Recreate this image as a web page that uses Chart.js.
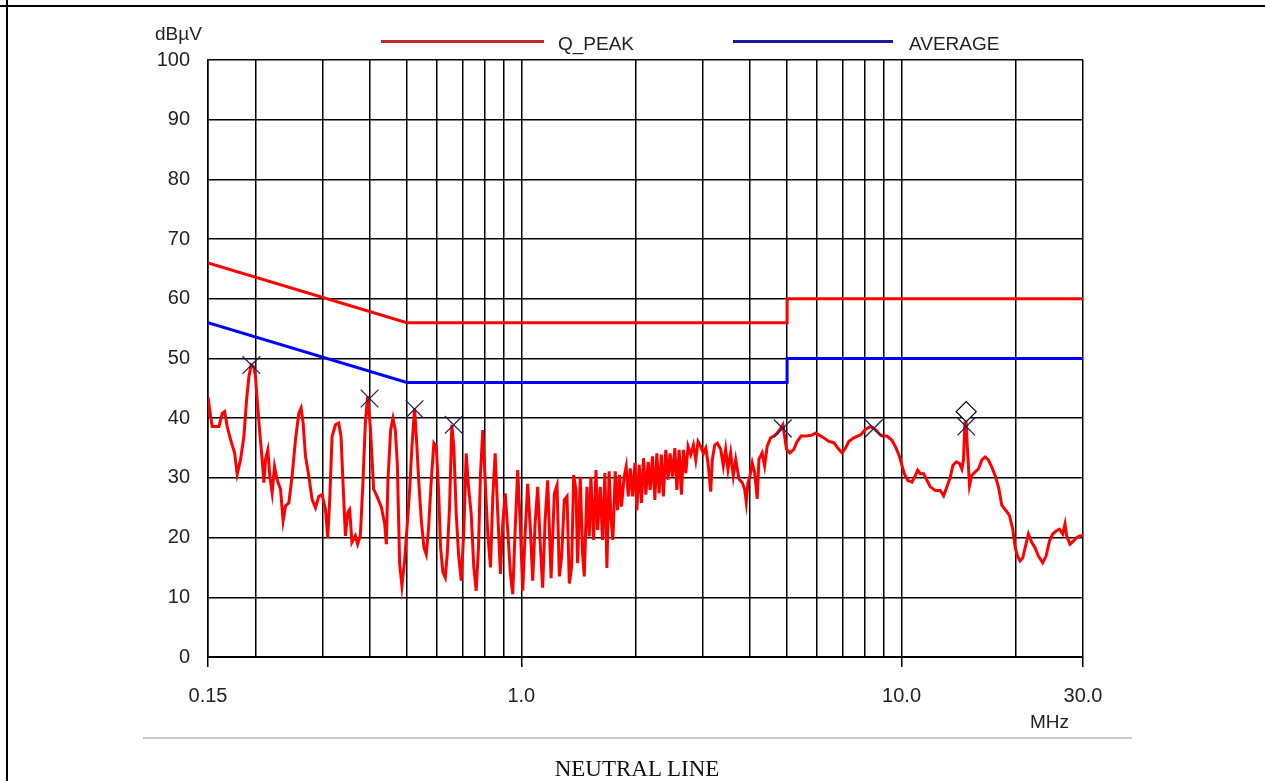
<!DOCTYPE html>
<html>
<head>
<meta charset="utf-8">
<title>NEUTRAL LINE</title>
<script src="https://cdn.jsdelivr.net/npm/chart.js@4.4.0/dist/chart.umd.min.js"></script>
<style>
  html, body { margin: 0; padding: 0; background: #fff; }
  #wrap { position: relative; width: 1265px; height: 781px; overflow: hidden;
          font-family: "Liberation Sans", Arial, sans-serif; color: #222; }
  #wrap canvas { position: absolute; left: 0; top: 0; }
  .txt { position: absolute; line-height: 1; white-space: nowrap; transform: translateY(-50%); font-size: 19px; }
  .bar { position: absolute; }
</style>
</head>
<body>
<div id="wrap">
  <canvas id="emiChart" width="1265" height="781"></canvas>
  <div class="bar" style="left:0;top:5px;width:1265px;height:2px;background:#000"></div>
  <div class="bar" style="left:6px;top:0;width:2px;height:781px;background:#000"></div>
  <div class="txt" style="left:155px;top:33px">dBµV</div>
  <div class="bar" style="left:381px;top:40px;width:163px;height:3px;background:#c0282a"></div>
  <div class="txt" style="left:558px;top:43px">Q_PEAK</div>
  <div class="bar" style="left:733px;top:40px;width:160px;height:3px;background:#1a1aa0"></div>
  <div class="txt" style="left:909px;top:43px">AVERAGE</div>
  <div class="txt" style="left:1030px;top:721px">MHz</div>
  <div class="bar" style="left:143px;top:737px;width:989px;height:2px;background:#c8c8c8"></div>
  <div class="txt" style="left:637px;top:768px;transform:translate(-50%,-50%);font-family:'Liberation Serif','Times New Roman',serif;font-size:23px;color:#111">NEUTRAL LINE</div>
</div>
<script>
// limit lines (CISPR class B, conducted)
var qpFreq = [0.15, 0.5, 5, 5, 30];
var qpLimit = [66, 56, 56, 60, 60];
var avFreq = [0.15, 0.5, 5, 5, 30];
var avLimit = [56, 46, 46, 50, 50];

var traceFreq = [
  0.150, 0.1524, 0.1539, 0.1603, 0.1635, 0.1659, 0.1685, 0.1720, 0.1762, 0.1790,
  0.1827, 0.1864, 0.1895, 0.1921, 0.1948, 0.1980, 0.2000, 0.2020, 0.2053, 0.2082,
  0.2104, 0.2125, 0.2155, 0.2181, 0.2212, 0.2244, 0.2280, 0.2327, 0.2364, 0.2398,
  0.2447, 0.2496, 0.2548, 0.2599, 0.2636, 0.2668, 0.2707, 0.2762, 0.2817, 0.2876,
  0.2934, 0.2993, 0.3055, 0.3098, 0.3135, 0.3179, 0.3245, 0.3310, 0.3357, 0.3397,
  0.3447, 0.3495, 0.3537, 0.3586, 0.3661, 0.3712, 0.3773, 0.3833, 0.3889, 0.3943,
  0.4008, 0.4090, 0.4173,
  0.4286, 0.4373, 0.4416, 0.4460, 0.4533, 0.4597, 0.4664, 0.4720, 0.4787, 0.4854,
  0.4933, 0.5014, 0.5085, 0.5156, 0.5241, 0.5315, 0.5379, 0.5458, 0.5544, 0.5625,
  0.5705, 0.5798, 0.5889, 0.5976, 0.6060, 0.6133, 0.6219, 0.6310, 0.6386, 0.6476,
  0.6566, 0.6646, 0.6744, 0.6838, 0.6951, 0.7061, 0.7163, 0.7263, 0.7383, 0.7500,
  0.7610, 0.7717, 0.7810, 0.7920, 0.8036, 0.8163, 0.8298, 0.8414, 0.8537, 0.8672,
  0.8813, 0.8937, 0.9069, 0.9212, 0.9363, 0.9494, 0.9633, 0.9785, 0.9929, 1.0086,
  1.0234, 1.0396, 1.0568, 1.0715, 1.0871, 1.1043, 1.1204, 1.1382, 1.1550, 1.1732,
  1.1975, 1.2216, 1.2416, 1.2591, 1.2767, 1.2975, 1.3190, 1.3374, 1.3563, 1.3727,
  1.3926, 1.4062, 1.4292, 1.4491, 1.4642, 1.4883, 1.509, 1.524, 1.549, 1.572,
  1.587, 1.613, 1.635, 1.659, 1.679, 1.702, 1.720, 1.741, 1.766, 1.791,
  1.812, 1.834, 1.864, 1.887, 1.911, 1.934, 1.961, 1.990, 2.013, 2.042,
  2.070, 2.096, 2.126, 2.156, 2.182, 2.213, 2.245, 2.272, 2.304, 2.336,
  2.364, 2.399, 2.433, 2.462, 2.497, 2.534, 2.565, 2.601, 2.637, 2.669,
  2.708, 2.745, 2.790, 2.835, 2.876, 2.916, 2.964, 3.012, 3.056, 3.098,
  3.148, 3.179, 3.225, 3.277,
  3.345, 3.398, 3.447, 3.496, 3.553, 3.609, 3.663, 3.736, 3.812, 3.867,
  3.905, 3.945, 3.993, 4.049, 4.108, 4.173, 4.215, 4.300, 4.363, 4.432,
  4.525, 4.616, 4.709, 4.807, 4.874, 4.924, 4.983, 5.083, 5.208, 5.313,
  5.443, 5.591, 5.763, 5.940, 6.060, 6.246, 6.438, 6.635, 6.839, 6.977,
  7.121, 7.263, 7.487, 7.796, 8.035, 8.282, 8.449, 8.618, 8.796, 8.974,
  9.156, 9.436, 9.690, 9.885, 10.02, 10.17, 10.38, 10.65, 10.87, 11.02,
  11.20, 11.43, 11.66, 11.90, 12.27, 12.64, 12.90, 13.16, 13.43, 13.64,
  13.93, 14.21, 14.41, 14.55, 14.67, 14.79, 14.91, 15.09, 15.30, 15.62,
  15.93, 16.26, 16.59, 16.92, 17.27, 17.62, 17.98, 18.35, 18.84, 19.22,
  19.61, 19.90, 20.17, 20.50, 20.83, 21.13, 21.56, 21.99, 22.44, 22.90,
  23.50, 23.99, 24.48, 24.97, 25.49, 26.01, 26.53, 26.91, 27.17, 27.73,
  28.30, 28.86, 29.46, 30.0
];
var traceLevel = [
  43.5, 40.3, 38.6, 38.6, 40.8, 41.1, 38.6, 36.4, 34.2, 30.6,
  33.1, 36.9, 43.1, 46.9, 48.9, 48.6, 46.9, 43.1, 37.5, 33.1,
  29.2, 33.1, 34.7, 30.3, 27.5, 31.9, 29.7, 28.1, 22.8, 25.3,
  25.8, 30.3, 36.4, 40.8, 41.7, 39.2, 33.6, 30.3, 26.4, 25.0,
  26.9, 27.2, 24.7, 20.0, 26.4, 36.9, 38.9, 39.2, 36.9, 29.2,
  20.3, 24.2, 24.7, 19.2, 20.3, 18.9, 20.3, 29.2, 39.2, 43.6,
  38.6, 28.1, 26.9,
  25.1, 22.3, 18.9, 29.6, 38.0, 40.0, 38.0, 32.4, 15.6, 11.9,
  16.1, 22.3, 27.9, 35.2, 41.7, 35.2, 29.0, 22.9, 18.4, 17.2,
  21.7, 29.6, 35.8, 35.2, 27.9, 18.4, 14.2, 13.3, 17.2, 25.1,
  38.9, 35.2, 24.0, 17.2, 12.8, 21.2, 34.1, 28.5, 24.0, 15.0,
  11.1, 18.4, 30.7, 38.0, 29.6, 20.6, 15.0, 26.8, 34.1, 24.0,
  13.9, 22.3, 27.4, 21.2, 13.9, 10.5, 21.2, 31.3, 22.9, 11.1,
  20.6, 29.0, 21.2, 12.8, 22.3, 28.5, 19.5, 11.6, 22.9, 29.6,
  13.2, 27.4, 28.8, 13.5, 16.8, 26.3, 26.9, 12.3, 15.1, 30.5,
  28.0, 15.7, 30.2, 17.4, 13.5, 28.5, 20.2, 30.2, 19.6, 31.3,
  21.3, 28.5, 19.6, 30.8, 14.9, 31.1, 23.5, 19.6, 31.1, 24.6,
  30.5, 25.2, 30.2, 31.9, 26.9, 31.6, 26.9, 32.5, 24.6, 32.2,
  25.8, 33.3, 27.2, 32.7, 28.0, 33.6, 26.3, 34.1, 27.4, 33.9,
  26.9, 34.7, 29.7, 34.1, 30.2, 35.0, 28.0, 34.7, 27.2, 34.7,
  30.8, 35.3, 33.9, 35.5, 33.0, 36.1, 35.3, 34.1, 35.0, 32.5,
  27.7, 33.0, 35.5, 35.8,
  34.8, 32.0, 34.8, 31.4, 34.2, 30.3, 33.1, 29.8, 29.2, 28.1,
  25.9, 29.2, 30.3, 32.5, 30.9, 26.5, 33.1, 34.2, 32.0, 35.3,
  36.7, 37.0, 37.5, 38.3, 38.9, 37.0, 34.8, 34.2, 34.8, 36.1,
  37.0, 37.0, 37.1, 37.5, 37.2, 36.7, 36.1, 35.9, 34.8, 34.2,
  35.0, 36.1, 36.7, 37.2, 38.1, 38.6, 38.3, 37.8, 37.2, 37.0,
  37.0, 36.3, 34.9, 33.5, 32.1, 30.7, 29.6, 29.3, 30.4, 31.3,
  30.7, 30.7, 29.6, 28.5, 27.9, 27.9, 27.0, 28.5, 30.1, 32.1,
  32.7, 32.4, 31.5, 33.0, 39.2, 39.2, 34.6, 28.7, 30.4, 31.0,
  31.5, 33.0, 33.5, 33.0, 31.8, 30.4, 28.5, 25.4, 24.5, 23.7,
  21.4, 18.3, 16.9, 16.1, 16.6, 18.3, 20.6, 19.2, 18.3, 16.9,
  15.8, 16.9, 19.4, 20.6, 21.1, 21.4, 20.6, 22.3, 20.3, 18.9,
  19.4, 20.0, 20.3, 20.3
];

// marked peaks (x) and the one flagged value (diamond)
var peakFreq = [0.195, 0.399, 0.524, 0.664, 4.87, 8.45, 14.79];
var peakLevel = [48.9, 43.3, 41.5, 38.9, 38.3, 38.3, 38.6];
var flagFreq = [14.79];
var flagLevel = [41.1];

// axes
var gridFreq = [0.15, 0.2, 0.3, 0.4, 0.5, 0.6, 0.7, 0.8, 0.9, 1,
                2, 3, 4, 5, 6, 7, 8, 9, 10, 20, 30];
var xTickValues = [0.15, 1, 10, 30];
var xTickLabels = ['0.15', '1.0', '10.0', '30.0'];

var fontFamily = "'Liberation Sans', Arial, sans-serif";

function pairs(xs, ys) {
    return xs.map(function(x, i) { return { x: x, y: ys[i] }; });
}

var ctx = document.getElementById('emiChart').getContext('2d');
var emiChart = new Chart(ctx, {
    type: 'scatter',
    data: {
        datasets: [
            {
                label: 'flag',
                data: pairs(flagFreq, flagLevel),
                pointStyle: 'rectRot',
                pointRadius: 10,
                pointBackgroundColor: '#fff',
                pointBorderColor: '#000',
                pointBorderWidth: 1.2
            },
            {
                label: 'peaks',
                data: pairs(peakFreq, peakLevel),
                pointStyle: 'crossRot',
                pointRadius: 12.5,
                pointBorderColor: '#22225e',
                pointBorderWidth: 1.3
            },
            {
                label: 'trace',
                data: pairs(traceFreq, traceLevel),
                showLine: true,
                borderColor: '#ff0000',
                borderWidth: 3,
                pointRadius: 0
            },
            {
                label: 'Q_PEAK',
                data: pairs(qpFreq, qpLimit),
                showLine: true,
                borderColor: '#ff0000',
                borderWidth: 3,
                pointRadius: 0
            },
            {
                label: 'AVERAGE',
                data: pairs(avFreq, avLimit),
                showLine: true,
                borderColor: '#0000ff',
                borderWidth: 3,
                pointRadius: 0
            }
        ]
    },
    options: {
        responsive: false,
        animation: false,
        devicePixelRatio: 1,
        layout: { padding: { left: 0, top: 60, right: 182, bottom: 0 } },
        plugins: {
            legend: { display: false },
            tooltip: { enabled: false }
        },
        scales: {
            x: {
                type: 'logarithmic',
                min: 0.15,
                max: 30,
                afterBuildTicks: function(scale) {
                    scale.ticks = gridFreq.map(function(v) { return { value: v }; });
                },
                afterFit: function(scale) { scale.height = 124; },
                ticks: {
                    autoSkip: false,
                    maxRotation: 0,
                    padding: 17,
                    color: '#222',
                    font: { family: fontFamily, size: 20 },
                    callback: function(value) {
                        var i = xTickValues.indexOf(value);
                        return i < 0 ? '' : xTickLabels[i];
                    }
                },
                grid: {
                    color: '#000',
                    lineWidth: 1.5,
                    tickLength: 10,
                    tickWidth: 1.5,
                    tickColor: function(c) {
                        return c.tick && xTickValues.indexOf(c.tick.value) >= 0 ? '#000' : 'rgba(0,0,0,0)';
                    }
                },
                border: { color: '#000', width: 2 }
            },
            y: {
                min: 0,
                max: 100,
                afterFit: function(scale) { scale.width = 208; },
                ticks: {
                    stepSize: 10,
                    padding: 18,
                    color: '#222',
                    font: { family: fontFamily, size: 20 }
                },
                grid: { color: '#000', lineWidth: 1.5, drawTicks: false },
                border: { color: '#000', width: 1.5 }
            }
        }
    }
});
</script>
</body>
</html>
